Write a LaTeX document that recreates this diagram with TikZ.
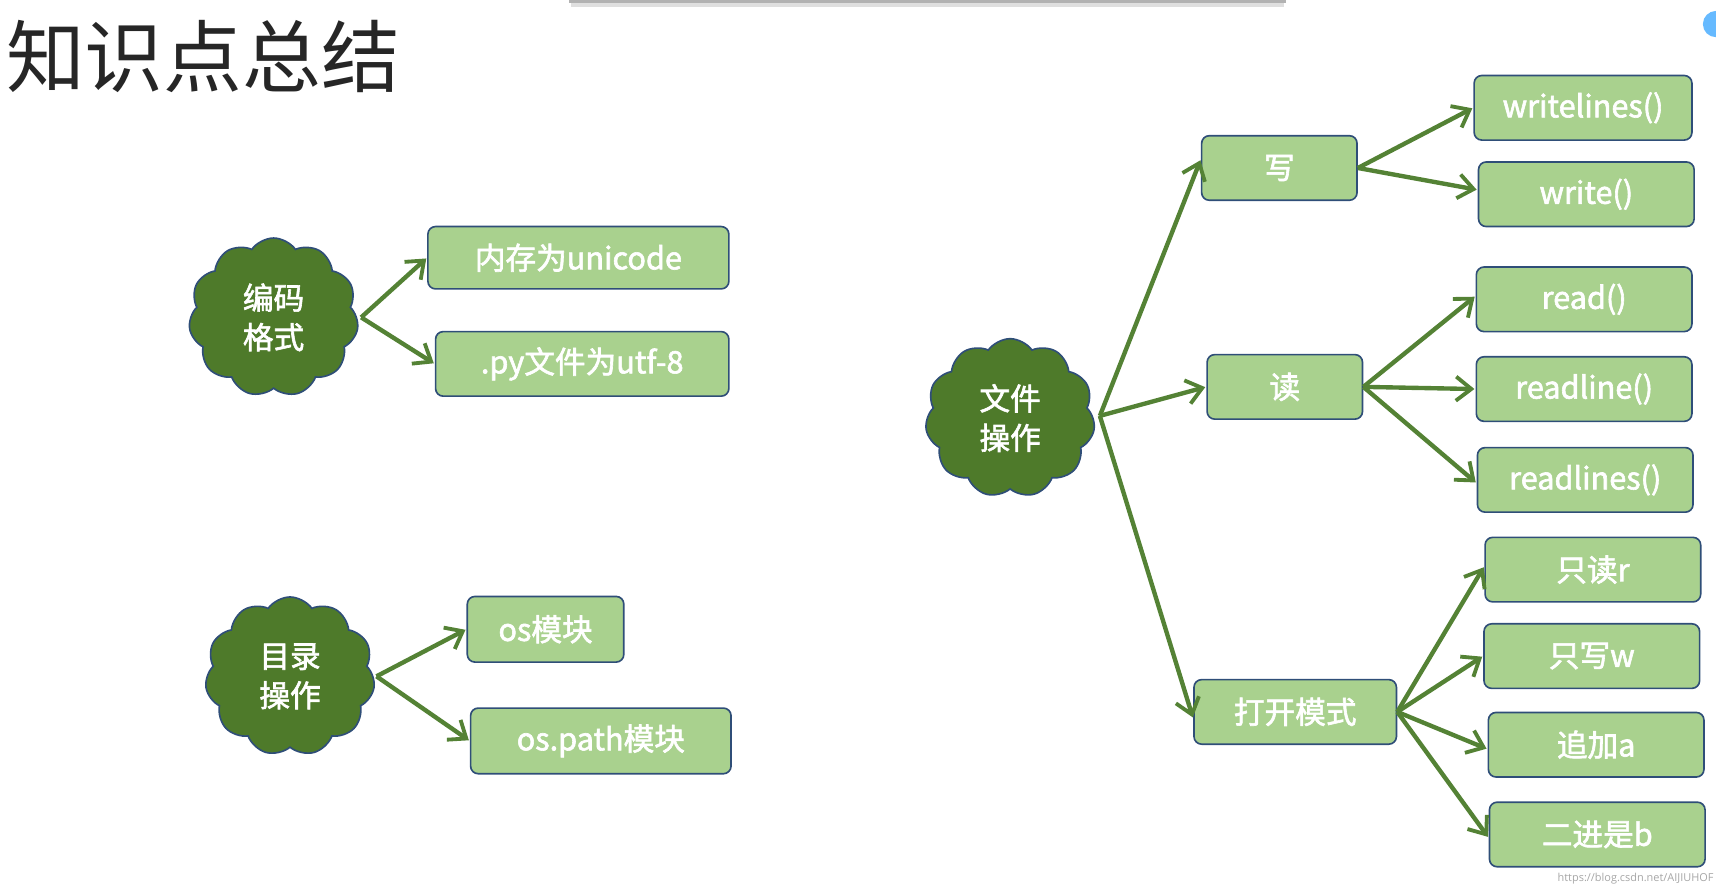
\documentclass[tikz,border=0pt]{standalone}
\usepackage{fontspec}
\setmainfont{Open Sans}
\newfontfamily\cjk{Noto Sans CJK SC}[AutoFakeBold=2]
\usetikzlibrary{shapes.symbols,arrows.meta}
\definecolor{boxfill}{HTML}{A9D18E}
\definecolor{boxline}{HTML}{2F4E78}
\definecolor{cloudfill}{HTML}{4E7A2A}
\definecolor{arrowc}{HTML}{548235}
\tikzset{
  leaf/.style={draw=boxline, line width=1.5pt, fill=boxfill, rounded corners=7pt, text=white, font=\cjk\bfseries\fontsize{28}{30}\selectfont, inner sep=0pt},
  blob/.style={cloud, cloud puffs=11, cloud puff arc=110, aspect=1, draw=boxline, line width=1.5pt, fill=cloudfill, text=white, font=\cjk\bfseries\fontsize{28}{36}\selectfont, align=center, minimum width=155pt, minimum height=145pt, inner sep=0pt},
  link/.style={draw=arrowc, line width=4pt, -{Straight Barb[length=14pt,width=22pt,line width=3.5pt]}, shorten >=1pt}
}
\newcommand{\leafbox}[6]{\node[leaf, minimum width=#4-#2, minimum height=#5-#3] (#1) at ({(#2+#4)/2},{(#3+#5)/2}) {#6};}
\begin{document}
\begin{tikzpicture}[x=1pt,y=-1pt]
\useasboundingbox (0,0) rectangle (1568,810);
\fill[gray!60] (520,0) rectangle (1175,3);
\fill[gray!25] (522,3) rectangle (1173,6);
\node[anchor=west, font=\cjk\fontsize{72}{72}\selectfont, text=black!85] (title) at (2,52) {知识点总结};
\fill[blue!45!cyan!60] (1568,22) circle (12);
% clouds
\node[blob] (c1) at (250,290) {编码\\格式};
\node[blob] (c2) at (265,618) {目录\\操作};
\node[blob] (c3) at (923,382) {文件\\操作};
% boxes
\leafbox{b1}{391}{207}{666}{264}{内存为unicode}
\leafbox{b2}{398}{303}{666}{362}{.py文件为utf-8}
\leafbox{b3}{427}{545}{570}{605}{os模块}
\leafbox{b4}{430}{647}{668}{707}{os.path模块}
\leafbox{w}{1098}{124}{1240}{183}{写}
\leafbox{r}{1103}{324}{1245}{383}{读}
\leafbox{o}{1091}{621}{1276}{680}{打开模式}
\leafbox{w1}{1347}{69}{1546}{128}{writelines()}
\leafbox{w2}{1351}{148}{1548}{207}{write()}
\leafbox{r1}{1349}{244}{1546}{303}{read()}
\leafbox{r2}{1349}{326}{1546}{385}{readline()}
\leafbox{r3}{1350}{409}{1547}{468}{readlines()}
\leafbox{o1}{1357}{491}{1554}{550}{只读r}
\leafbox{o2}{1356}{570}{1553}{629}{只写w}
\leafbox{o3}{1360}{651}{1557}{710}{追加a}
\leafbox{o4}{1361}{733}{1558}{792}{二进是b}
% arrows
\coordinate (s1) at (330,290);
\coordinate (s2) at (344,618);
\coordinate (s3) at (1005,380);
\draw[link] (s1) -- (b1.west);
\draw[link] (s1) -- (b2.west);
\draw[link] (s2) -- (b3.west);
\draw[link] (s2) -- (b4.west);
\draw[link] (s3) -- ([yshift=8pt]w.west);
\draw[link] (s3) -- (r.west);
\draw[link] (s3) -- ([yshift=-6pt]o.west);
\draw[link] (w.east) -- (w1.west);
\draw[link] (w.east) -- ([yshift=4pt]w2.west);
\draw[link] (r.east) -- ([yshift=3pt]r1.west);
\draw[link] (r.east) -- (r2.west);
\draw[link] (r.east) -- ([yshift=-3pt]r3.west);
\draw[link] (o.east) -- ([yshift=3pt]o1.west);
\draw[link] (o.east) -- (o2.west);
\draw[link] (o.east) -- ([yshift=-4pt]o3.west);
\draw[link] (o.east) -- ([yshift=-3pt]o4.west);
\node[anchor=south east, font=\fontsize{10}{10}\selectfont, text=gray!70, inner sep=2pt] (wm) at (1568,810) {https://blog.csdn.net/AIJIUHOF};
\end{tikzpicture}
\end{document}
